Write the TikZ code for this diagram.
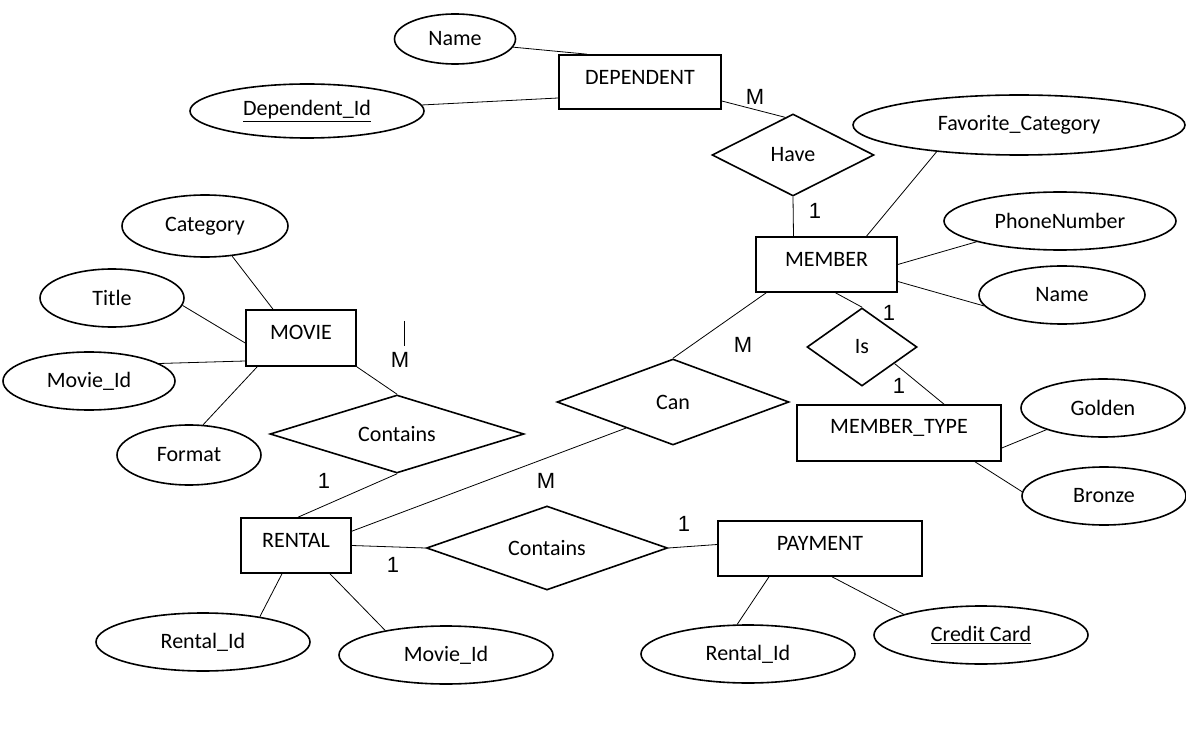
\documentclass[tikz,border=0pt]{standalone}
\usepackage{fontspec}
\setmainfont{Carlito}
\newfontfamily\cardfont{Liberation Sans}
\usetikzlibrary{shapes.geometric}
\begin{document}
\begin{tikzpicture}[x=1pt,y=-1pt,
  base/.style={draw, line width=1.6pt, inner sep=0pt, font=\fontsize{22pt}{26pt}\selectfont},
  ent/.style={base, rectangle},
  attr/.style={base, ellipse},
  rel/.style={base, diamond, aspect=3},
  txt/.style={inner sep=0pt, font=\fontsize{22pt}{26pt}\selectfont},
  card/.style={inner sep=0pt, font=\cardfont\fontsize{22pt}{26pt}\selectfont},
  conn/.style={line width=0.8pt}]
\useasboundingbox[fill=white] (0,0) rectangle (1186,735);

% ---------- entities ----------
\node[ent, minimum width=162pt, minimum height=54pt] (dep) at (640,82) {};
\node[txt] (dept) at ([yshift=5pt]dep.center) {DEPENDENT};
\node[ent, minimum width=141pt, minimum height=55pt] (mem) at (826.5,264.5) {};
\node[txt] (memt) at ([yshift=5pt]mem.center) {MEMBER};
\node[ent, minimum width=204pt, minimum height=56pt] (mt) at (899,433) {};
\node[txt] (mtt) at ([yshift=5pt]mt.center) {MEMBER\_TYPE};
\node[ent, minimum width=110pt, minimum height=56pt] (movie) at (301,338) {};
\node[txt] (moviet) at ([yshift=6pt]movie.center) {MOVIE};
\node[ent, minimum width=110pt, minimum height=55pt] (rental) at (296,545.5) {};
\node[txt] (rentalt) at ([yshift=5pt]rental.center) {RENTAL};
\node[ent, minimum width=204pt, minimum height=55pt] (pay) at (820,548.5) {};
\node[txt] (payt) at ([yshift=5pt]pay.center) {PAYMENT};

% ---------- relationships ----------
\node[rel, minimum width=162pt, minimum height=82pt] (have) at (793,155) {Have};
\node[rel, minimum width=110pt, minimum height=78pt] (is) at (862,347) {Is};
\node[rel, minimum width=232pt, minimum height=86pt] (can) at (673,402) {Can};
\node[rel, minimum width=254pt, minimum height=78pt] (con1) at (397,434) {Contains};
\node[rel, minimum width=241pt, minimum height=84pt] (con2) at (547,548) {Contains};

% ---------- attributes ----------
\node[attr, minimum width=121pt, minimum height=50pt] (dname) at (455,39) {Name};
\node[attr, minimum width=234pt, minimum height=54pt] (did) at (307,111) {\underline{Dependent\_Id}};
\node[attr, minimum width=332pt, minimum height=60pt] (fav) at (1019,125) {Favorite\_Category};
\node[attr, minimum width=232pt, minimum height=58pt] (phone) at (1060,221) {PhoneNumber};
\node[attr, minimum width=166pt, minimum height=58pt] (mname) at (1062,295) {Name};
\node[attr, minimum width=164pt, minimum height=58pt] (golden) at (1103,408) {Golden};
\node[attr, minimum width=164pt, minimum height=58pt] (bronze) at (1104,496) {Bronze};
\node[attr, minimum width=166pt, minimum height=62pt] (cat) at (205,226) {Category};
\node[attr, minimum width=144pt, minimum height=58pt] (title) at (112,298) {Title};
\node[attr, minimum width=172pt, minimum height=58pt] (mid) at (89,381) {Movie\_Id};
\node[attr, minimum width=144pt, minimum height=60pt] (fmt) at (189,455) {Format};
\node[attr, minimum width=214pt, minimum height=58pt] (rid) at (203,642) {Rental\_Id};
\node[attr, minimum width=214pt, minimum height=58pt] (rmid) at (446,655) {Movie\_Id};
\node[attr, minimum width=214pt, minimum height=58pt] (prid) at (748,654) {Rental\_Id};
\node[attr, minimum width=214pt, minimum height=58pt] (cc) at (981,635) {\underline{Credit Card}};

% ---------- connectors ----------
\draw[conn] (dname.-8) -- ([xshift=29pt]dep.north west);
\draw[conn] (did.3) -- ([yshift=-16pt]dep.west);
\draw[conn] ([yshift=-19pt]dep.east) -- (have.102);
\draw[conn] (have.south) -- ([xshift=-33pt]mem.north);
\draw[conn] (fav.-162.5) -- ([xshift=40pt]mem.north);
\draw[conn] (phone.194) -- (mem.east);
\draw[conn] ([yshift=-17pt]mem.east) -- (mname.188);
\draw[conn] ([xshift=11pt]mem.south west) -- (can.north);
\draw[conn] ([xshift=9pt]mem.south) -- (is.north);
\draw[conn] (is.-27) -- ([xshift=45pt]mt.north);
\draw[conn] ([yshift=-15pt]mt.east) -- (golden.201);
\draw[conn] ([xshift=76pt]mt.south) -- (bronze.177);
\draw[conn] (can.209.5) -- ([yshift=-14pt]rental.north east);
\draw[conn] (movie.south east) -- (con1.north);
\draw[conn] (con1.south) -- ([xshift=2pt]rental.north);
\draw[conn] (rental.east) -- (con2.west);
\draw[conn] (con2.east) -- ([yshift=4pt]pay.west);
\draw[conn] ([xshift=-14pt]rental.south) -- (rid.24);
\draw[conn] ([xshift=34pt]rental.south) -- (rmid.158);
\draw[conn] ([xshift=-51pt]pay.south) -- (prid.110);
\draw[conn] ([xshift=12pt]pay.south) -- (cc.165);
\draw[conn] (cat.-48) -- ([xshift=-28pt]movie.north);
\draw[conn] (title.-6) -- ([yshift=-5pt]movie.west);
\draw[conn] (mid.14) -- ([yshift=-23pt]movie.west);
\draw[conn] (fmt.65) -- ([xshift=12pt]movie.south west);
\coordinate (strayA) at (404,321);
\coordinate (strayB) at (404,346);
\draw[conn] (strayA) -- (strayB);

% ---------- cardinalities ----------
\node[card] (c1) at (755,97) {M};
\node[card] (c2) at (815,211) {1};
\node[card] (c3) at (743,345) {M};
\node[card] (c4) at (889,313) {1};
\node[card] (c5) at (899,386) {1};
\node[card] (c6) at (546,481) {M};
\node[card] (c7) at (400,360) {M};
\node[card] (c8) at (324,481) {1};
\node[card] (c9) at (393,565) {1};
\node[card] (c10) at (684,524) {1};
\end{tikzpicture}
\end{document}
